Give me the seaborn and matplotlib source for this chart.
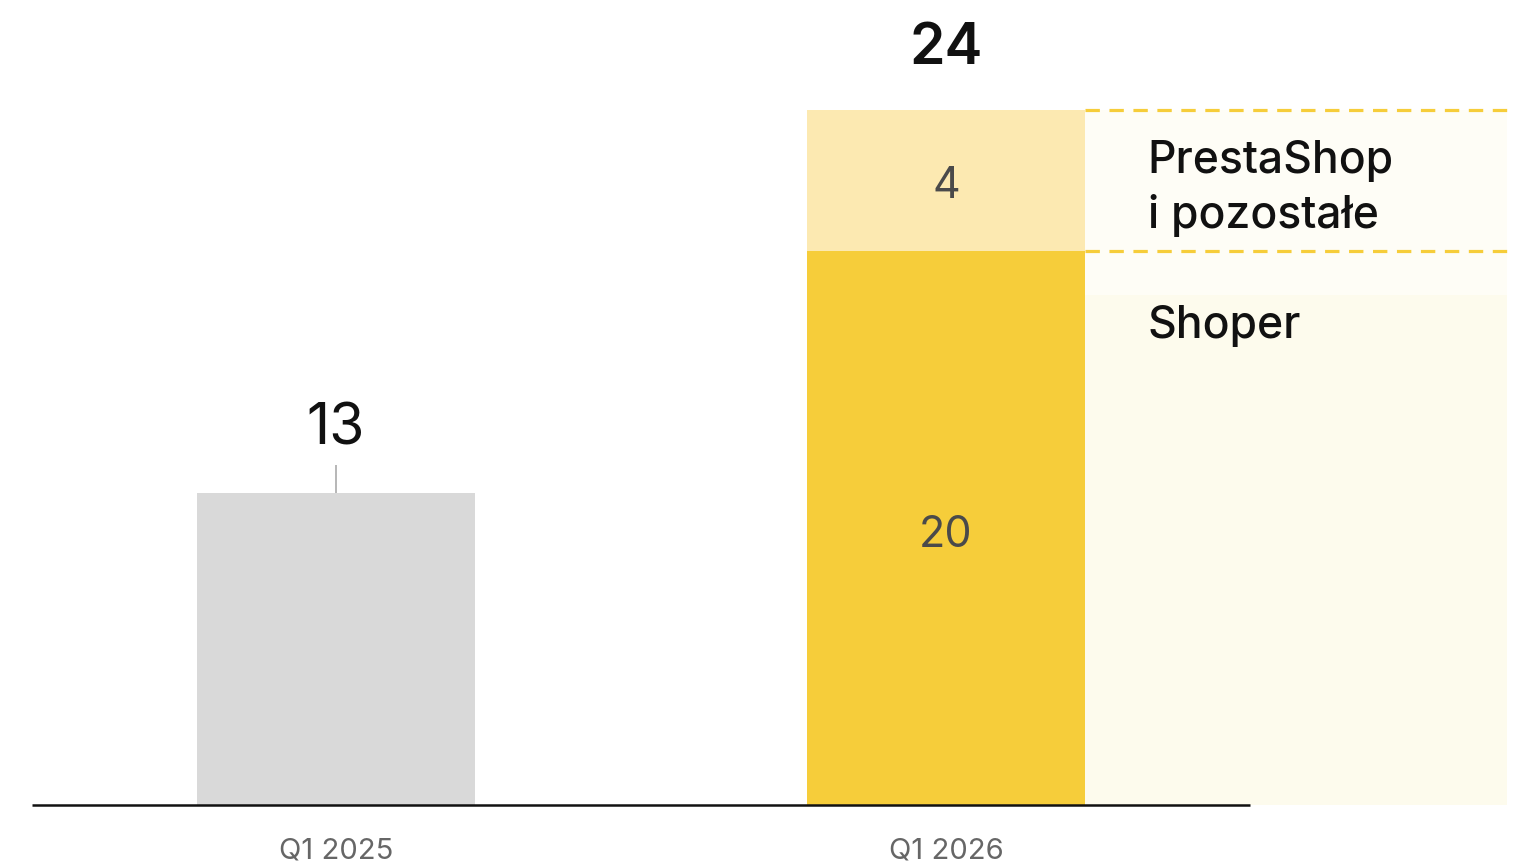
"""
Shoper vs PrestaShop: Q1 2025 vs Q1 2026 comparison bar chart.
"""

import pandas as pd
import matplotlib.pyplot as plt
import seaborn as sns

# Data
quarters = ['Q1 2025', 'Q1 2026']
base_heights = [13, 23.1]      # drawn bar heights (gray bar / Shoper segment)
top_heights = [0, 5.85]        # PrestaShop segment on top of the 2026 bar
base_labels = ['13', '20']
top_label = '4'
total_label = '24'
segment_names = ['PrestaShop\ni pozostałe', 'Shoper']

# Colors
GRAY = '#d9d9d9'
YELLOW = '#f6cd3a'
YELLOW_LIGHT = '#fce9b1'
PANEL = '#fefdf6'
PANEL_SHOPER = '#fdfbed'

sns.set_style('white')
plt.rcParams['font.family'] = ['Inter', 'DejaVu Sans']

df = pd.DataFrame({
    'quarter': quarters,
    'base': base_heights,
    'total': [b + t for b, t in zip(base_heights, top_heights)],
})

fig = plt.figure(figsize=(15.21, 8.63), dpi=100)
ax = fig.add_axes([0, 0, 1, 1])

# Stacked bar: total first, base segment on top of it
sns.barplot(df, x='quarter', y='total', hue='quarter', palette=[GRAY, YELLOW_LIGHT],
            width=0.456, saturation=1, legend=False, errorbar=None, linewidth=0, ax=ax)
sns.barplot(df, x='quarter', y='base', hue='quarter', palette=[GRAY, YELLOW],
            width=0.456, saturation=1, legend=False, errorbar=None, linewidth=0, ax=ax)

ax.set_xlim(-0.551, 1.943)
ax.set_ylim(-2.417, 33.54)
ax.axis('off')

# Legend panel to the right of the 2026 bar
x0, x1 = 1.228, 1.92
seg_bottom = df['base'][1]
seg_top = df['total'][1]
ax.fill_between([x0, x1], 0, seg_top, color=PANEL, lw=0, zorder=0)
ax.fill_between([x0, x1], 0, 21.25, color=PANEL_SHOPER, lw=0, zorder=0)
for yv in [seg_bottom, seg_top]:
    ax.hlines(yv, x0, x1, color=YELLOW, lw=2.3, linestyles=(0, (4.5, 3)), zorder=3)

top_name, top_name2 = segment_names[0].split('\n')
ax.text(1.331, 26.33, top_name, fontsize=32, fontweight='medium',
        color='#111111', va='baseline', ha='left')
ax.text(1.331, 24.04, top_name2, fontsize=32, fontweight='medium',
        color='#111111', va='baseline', ha='left')
ax.text(1.331, 19.46, segment_names[1], fontsize=32, fontweight='medium',
        color='#111111', va='baseline', ha='left')

# Baseline
ax.hlines(0, -0.498, 1.498, color='#111111', lw=1.8, zorder=4)

# Value labels
ax.text(0, 15.0, base_labels[0], fontsize=41, color='#111111', ha='center', va='baseline')
ax.vlines(0, 13.0, 14.17, color='#aaaaaa', lw=1.2)
ax.text(1, 30.875, total_label, fontsize=41, fontweight='semibold', color='#111111',
        ha='center', va='baseline')
ax.text(1, 25.29, top_label, fontsize=31, color='#4a4a4a', ha='center', va='baseline')
ax.text(1, 10.75, base_labels[1], fontsize=31, color='#4a4a4a', ha='center', va='baseline')

# Category labels
for i, q in enumerate(quarters):
    ax.text(i, -2.21, q, fontsize=21, color='#666666', ha='center', va='baseline')

fig.savefig('out.png', dpi=100)
